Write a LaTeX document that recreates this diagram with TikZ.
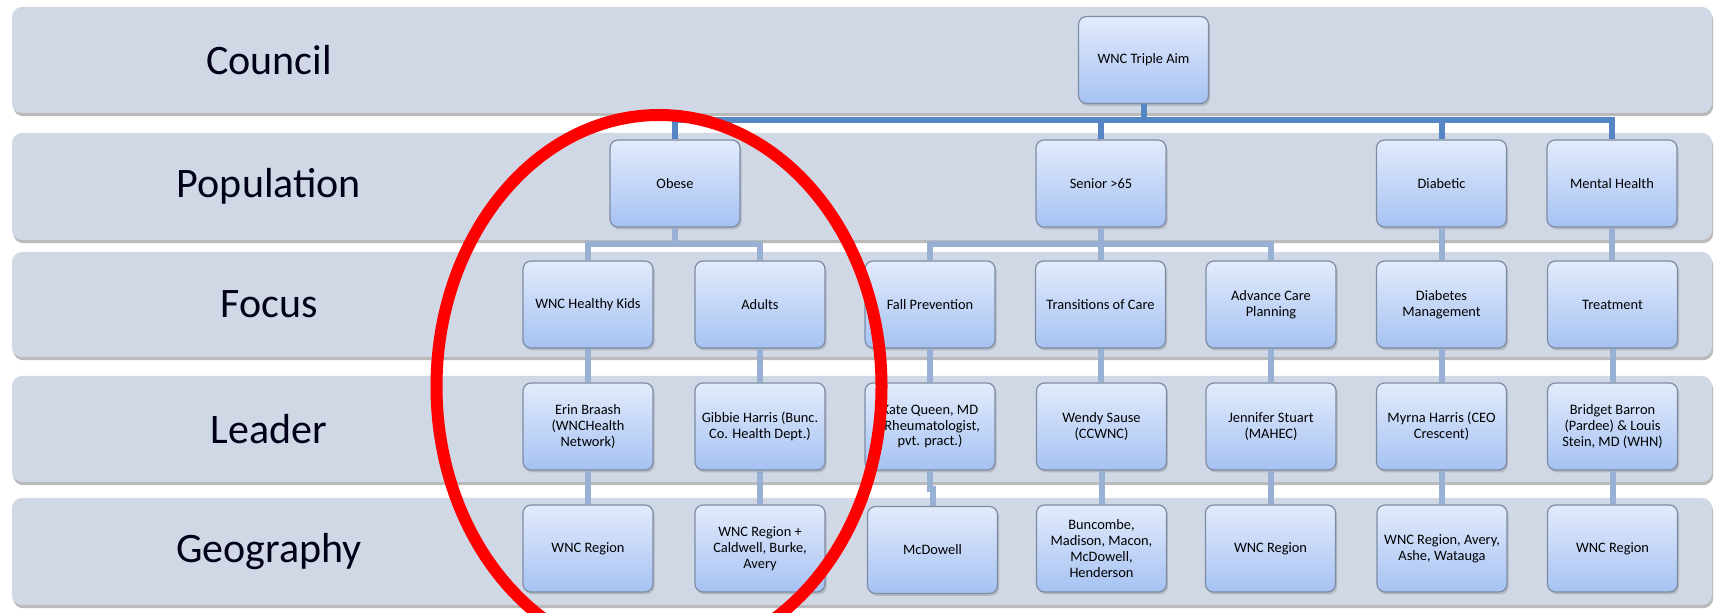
\documentclass[tikz,border=0pt]{standalone}
\usepackage{fontspec}
\setmainfont{Carlito}
\usetikzlibrary{shadows}
\definecolor{bandc}{HTML}{D0D8E6}
\definecolor{boxtop}{HTML}{E2EBFB}
\definecolor{boxbot}{HTML}{A6C2F3}
\definecolor{boxborder}{HTML}{7E8CA3}
\definecolor{linkdark}{HTML}{5585C3}
\definecolor{linklight}{HTML}{98B0D4}
\tikzset{
  band/.style={fill=bandc, rounded corners=5pt,
    drop shadow={shadow xshift=0.6pt, shadow yshift=-1.6pt, opacity=0.45, fill=black!60}},
  bandlabel/.style={font=\fontsize{21}{25}\selectfont, text=black!90!blue},
  box/.style={draw=boxborder, line width=0.6pt, rounded corners=4pt,
    top color=boxtop, bottom color=boxbot,
    minimum width=65pt, minimum height=43.5pt, align=center,
    font=\fontsize{7.2}{7.9}\selectfont, inner sep=2pt,
    drop shadow={shadow xshift=0.8pt, shadow yshift=-1.2pt, opacity=0.35}},
  linkA/.style={draw=linkdark, line width=3pt},
  linkB/.style={draw=linklight, line width=3pt},
  ring/.style={draw=red, line width=6pt}
}
\begin{document}
\begin{tikzpicture}[x=0.5pt,y=-0.5pt]
\useasboundingbox (0,0) rectangle (1719,613);
\fill[white] (0,0) rectangle (1719,613);
\clip (0,0) rectangle (1719,613);
% bands
\foreach \t/\b in {7/113,133/240,252/357,376/482,498/605}
  \fill[band] (12,\t) rectangle (1712,\b);
% band labels
\node[bandlabel] (lcouncil) at (269,60) {Council};
\node[bandlabel] (lpop) at (269,186.5) {Population};
\node[bandlabel] (lfocus) at (269,304.5) {Focus};
\node[bandlabel] (lleader) at (269,429) {Leader};
\node[bandlabel] (lgeo) at (269,551.5) {Geography};
% council
\node[box] (aim) at (1143.5,60) {WNC Triple Aim};
% population
\node[box] (obese) at (675,183.5) {Obese};
\node[box] (senior) at (1101,183.5) {Senior >65};
\node[box] (diab) at (1441.5,183.5) {Diabetic};
\node[box] (mental) at (1612,183.5) {Mental Health};
% focus
\node[box] (kids) at (588,304.5) {WNC Healthy Kids};
\node[box] (adults) at (760,304.5) {Adults};
\node[box] (fall) at (930,304.5) {Fall Prevention};
\node[box] (trans) at (1100.5,304.5) {Transitions of Care};
\node[box] (adv) at (1271,304.5) {Advance Care\\Planning};
\node[box] (dm) at (1441.5,304.5) {Diabetes\\Management};
\node[box] (treat) at (1612.5,304.5) {Treatment};
% leader
\node[box] (erin) at (588,426.5) {Erin Braash\\(WNCHealth\\Network)};
\node[box] (gibbie) at (760,426.5) {Gibbie Harris (Bunc.\\Co. Health Dept.)};
\node[box] (kate) at (930,426.5) {Kate Queen, MD\\(Rheumatologist,\\pvt. pract.)};
\node[box] (wendy) at (1101.5,426.5) {Wendy Sause\\(CCWNC)};
\node[box] (jen) at (1271,426.5) {Jennifer Stuart\\(MAHEC)};
\node[box] (myrna) at (1441.5,426.5) {Myrna Harris (CEO\\Crescent)};
\node[box] (bridget) at (1612.5,426.5) {Bridget Barron\\(Pardee) \& Louis\\Stein, MD (WHN)};
% geography
\node[box] (geoa) at (588,548.5) {WNC Region};
\node[box] (geob) at (760,548.5) {WNC Region +\\Caldwell, Burke,\\Avery};
\node[box] (geoc) at (932.5,550) {McDowell};
\node[box] (geod) at (1101.5,548.5) {Buncombe,\\Madison, Macon,\\McDowell,\\Henderson};
\node[box] (geoe) at (1270.5,548.5) {WNC Region};
\node[box] (geof) at (1442,548.5) {WNC Region, Avery,\\Ashe, Watauga};
\node[box] (geog) at (1612.5,548.5) {WNC Region};
% connectors
\coordinate (topbar) at (0,120.5);
\coordinate (fbar) at (0,244);
\draw[linkA] (aim.south) -- (aim.south |- topbar);
\draw[linkA] (obese.north) -- (obese.north |- topbar) -- (mental.north |- topbar) -- (mental.north);
\draw[linkA] (senior.north) -- (senior.north |- topbar);
\draw[linkA] (diab.north) -- (diab.north |- topbar);
\draw[linkB] (obese.south) -- (obese.south |- fbar);
\draw[linkB] (kids.north) -- (kids.north |- fbar) -- (adults.north |- fbar) -- (adults.north);
\draw[linkB] (senior.south) -- (senior.south |- fbar);
\draw[linkB] (fall.north) -- (fall.north |- fbar) -- (adv.north |- fbar) -- (adv.north);
\draw[linkB] (trans.north) -- (trans.north |- fbar);
\draw[linkB] (diab.south) -- (diab.south |- dm.north);
\draw[linkB] (mental.south) -- (mental.south |- treat.north);
\draw[linkB] (kids.south) -- (erin.north);
\draw[linkB] (adults.south) -- (gibbie.north);
\draw[linkB] (fall.south) -- (kate.north);
\draw[linkB] (trans.south) -- (trans.south |- wendy.north);
\draw[linkB] (adv.south) -- (jen.north);
\draw[linkB] (dm.south) -- (myrna.north);
\draw[linkB] (treat.south) -- (bridget.north);
\draw[linkB] (erin.south) -- (geoa.north);
\draw[linkB] (gibbie.south) -- (geob.north);
\draw[linkB] (kate.south) -- ++(0,18) -| (geoc.north);
\draw[linkB] (wendy.south) -- (geod.north);
\draw[linkB] (jen.south) -- (jen.south |- geoe.north);
\draw[linkB] (myrna.south) -- (myrna.south |- geof.north);
\draw[linkB] (bridget.south) -- (geog.north);
% red ring
\draw[ring] (659,386.5) ellipse [x radius=222.5, y radius=271.5];
\end{tikzpicture}
\end{document}
